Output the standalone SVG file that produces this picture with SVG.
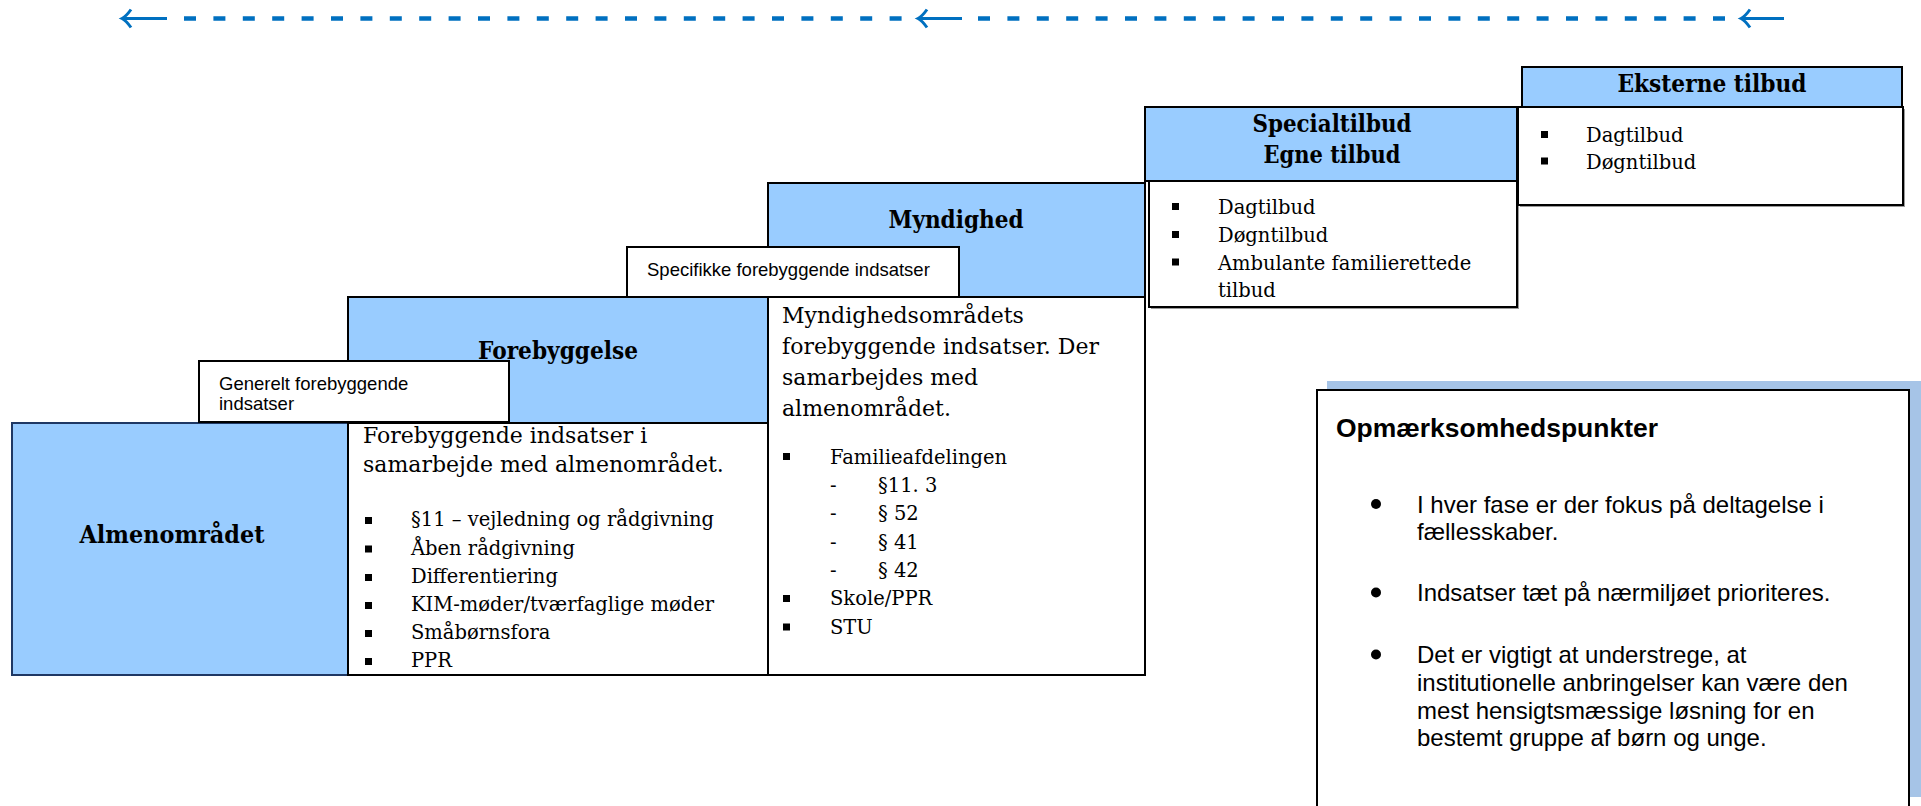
<svg xmlns="http://www.w3.org/2000/svg" width="1921" height="806" viewBox="0 0 1921 806">
<style>
.blue{fill:#99ccff;stroke:#000;stroke-width:2}
.white{fill:#fff;stroke:#000;stroke-width:2}
.shadow{fill:#9a9a9a}
.hdr{font-family:"DejaVu Serif","Liberation Serif",serif;font-weight:bold;font-size:24px;fill:#000;text-anchor:middle}
.intro{font-family:"DejaVu Serif","Liberation Serif",serif;font-size:22px;fill:#000}
.li{font-family:"DejaVu Serif","Liberation Serif",serif;font-size:19.5px;fill:#000}
.sans{font-family:"Liberation Sans",Arial,sans-serif;font-size:18.5px;fill:#000}
.opm{font-family:"Liberation Sans",Arial,sans-serif;font-size:24px;fill:#000}
.opmt{font-family:"Liberation Sans",Arial,sans-serif;font-size:25px;font-weight:bold;fill:#000}
.sq{fill:#000}
.arr{fill:none;stroke:#0070c0;stroke-width:3;stroke-linecap:butt}
.dash{stroke:#0070c0;stroke-width:4.5;stroke-dasharray:12 17.4}
</style>

<g id="connectors">
  <line class="dash" x1="184" y1="18.5" x2="902" y2="18.5"/>
  <line class="dash" x1="978" y1="18.5" x2="1726" y2="18.5"/>
  <path class="arr" d="M122,18.5 H167 M131,9.5 Q126,16.5 122,18.5 Q126,20.5 131,27.5"/>
  <path class="arr" d="M918,18.5 H962 M927,9.5 Q922,16.5 918,18.5 Q922,20.5 927,27.5"/>
  <path class="arr" d="M1741,18.5 H1784 M1750,9.5 Q1745,16.5 1741,18.5 Q1745,20.5 1750,27.5"/>
</g>

<g id="almenomraadet">
  <rect x="12" y="423" width="336" height="252" fill="#99ccff" stroke="#1f3864" stroke-width="2"/>
  <text class="hdr" x="172" y="543" textLength="185" lengthAdjust="spacingAndGlyphs">Almenområdet</text>
</g>

<g id="forebyggelse">
  <rect class="blue" x="348" y="297" width="420" height="126"/>
  <rect class="white" x="348" y="423" width="420" height="252"/>
  <text class="hdr" x="558" y="359" textLength="160" lengthAdjust="spacingAndGlyphs">Forebyggelse</text>
  <text class="intro" x="363" y="443">Forebyggende indsatser i</text>
  <text class="intro" x="363" y="472">samarbejde med almenområdet.</text>
  <rect class="sq" x="365" y="517" width="7" height="7"/>
  <rect class="sq" x="365" y="545.5" width="7" height="7"/>
  <rect class="sq" x="365" y="574" width="7" height="7"/>
  <rect class="sq" x="365" y="602" width="7" height="7"/>
  <rect class="sq" x="365" y="630" width="7" height="7"/>
  <rect class="sq" x="365" y="658" width="7" height="7"/>
  <text class="li" x="411" y="526">§11 – vejledning og rådgivning</text>
  <text class="li" x="411" y="554.5">Åben rådgivning</text>
  <text class="li" x="411" y="583">Differentiering</text>
  <text class="li" x="411" y="611">KIM-møder/tværfaglige møder</text>
  <text class="li" x="411" y="639">Småbørnsfora</text>
  <text class="li" x="411" y="667">PPR</text>
</g>

<g id="generelt">
  <rect class="white" x="199" y="361" width="310" height="61"/>
  <text class="sans" x="219" y="390">Generelt forebyggende</text>
  <text class="sans" x="219" y="410">indsatser</text>
</g>

<g id="myndighed">
  <rect class="blue" x="768" y="183" width="377" height="114"/>
  <rect class="white" x="768" y="297" width="377" height="378"/>
  <text class="hdr" x="956" y="228" textLength="135" lengthAdjust="spacingAndGlyphs">Myndighed</text>
  <text class="intro" x="782" y="323">Myndighedsområdets</text>
  <text class="intro" x="782" y="354">forebyggende indsatser. Der</text>
  <text class="intro" x="782" y="385">samarbejdes med</text>
  <text class="intro" x="782" y="416">almenområdet.</text>
  <rect class="sq" x="783" y="453" width="7" height="7"/>
  <rect class="sq" x="783" y="595" width="7" height="7"/>
  <rect class="sq" x="783" y="623.5" width="7" height="7"/>
  <text class="li" x="830" y="463.5">Familieafdelingen</text>
  <text class="li" x="830" y="492">-</text>
  <text class="li" x="878" y="492">§11. 3</text>
  <text class="li" x="830" y="520">-</text>
  <text class="li" x="878" y="520">§ 52</text>
  <text class="li" x="830" y="548.5">-</text>
  <text class="li" x="878" y="548.5">§ 41</text>
  <text class="li" x="830" y="577">-</text>
  <text class="li" x="878" y="577">§ 42</text>
  <text class="li" x="830" y="605">Skole/PPR</text>
  <text class="li" x="830" y="633.5">STU</text>
</g>

<g id="specifikke">
  <rect class="white" x="627" y="247" width="332" height="50"/>
  <text class="sans" x="647" y="276">Specifikke forebyggende indsatser</text>
</g>

<g id="specialtilbud">
  <rect class="blue" x="1145" y="107" width="372" height="74"/>
  <rect class="shadow" x="1151" y="183" width="368" height="126"/>
  <rect class="white" x="1149" y="181" width="368" height="126"/>
  <text class="hdr" x="1332" y="132" textLength="159" lengthAdjust="spacingAndGlyphs">Specialtilbud</text>
  <text class="hdr" x="1332" y="163" textLength="137" lengthAdjust="spacingAndGlyphs">Egne tilbud</text>
  <rect class="sq" x="1172" y="203" width="7" height="7"/>
  <rect class="sq" x="1172" y="231" width="7" height="7"/>
  <rect class="sq" x="1172" y="258.5" width="7" height="7"/>
  <text class="li" x="1218" y="214">Dagtilbud</text>
  <text class="li" x="1218" y="242">Døgntilbud</text>
  <text class="li" x="1218" y="269.5">Ambulante familierettede</text>
  <text class="li" x="1218" y="297">tilbud</text>
</g>

<g id="eksterne">
  <rect class="blue" x="1522" y="67" width="380" height="40"/>
  <rect class="shadow" x="1520" y="109" width="385" height="98"/>
  <rect class="white" x="1518" y="107" width="385" height="98"/>
  <text class="hdr" x="1712" y="92" textLength="189" lengthAdjust="spacingAndGlyphs">Eksterne tilbud</text>
  <rect class="sq" x="1541" y="131" width="7" height="7"/>
  <rect class="sq" x="1541" y="157.5" width="7" height="7"/>
  <text class="li" x="1586" y="142">Dagtilbud</text>
  <text class="li" x="1586" y="168.5">Døgntilbud</text>
</g>

<g id="opmaerksomhedspunkter">
  <rect x="1327" y="381" width="594" height="416" fill="#a6c4e7"/>
  <rect class="white" x="1317" y="390" width="592" height="430"/>
  <text class="opmt" x="1336" y="437" textLength="322" lengthAdjust="spacingAndGlyphs">Opmærksomhedspunkter</text>
  <circle cx="1376" cy="504" r="5"/>
  <circle cx="1376" cy="592.5" r="5"/>
  <circle cx="1376" cy="654.5" r="5"/>
  <text class="opm" x="1417" y="512.7">I hver fase er der fokus på deltagelse i</text>
  <text class="opm" x="1417" y="540">fællesskaber.</text>
  <text class="opm" x="1417" y="601">Indsatser tæt på nærmiljøet prioriteres.</text>
  <text class="opm" x="1417" y="663">Det er vigtigt at understrege, at</text>
  <text class="opm" x="1417" y="691">institutionelle anbringelser kan være den</text>
  <text class="opm" x="1417" y="718.5">mest hensigtsmæssige løsning for en</text>
  <text class="opm" x="1417" y="746">bestemt gruppe af børn og unge.</text>
</g>
</svg>
